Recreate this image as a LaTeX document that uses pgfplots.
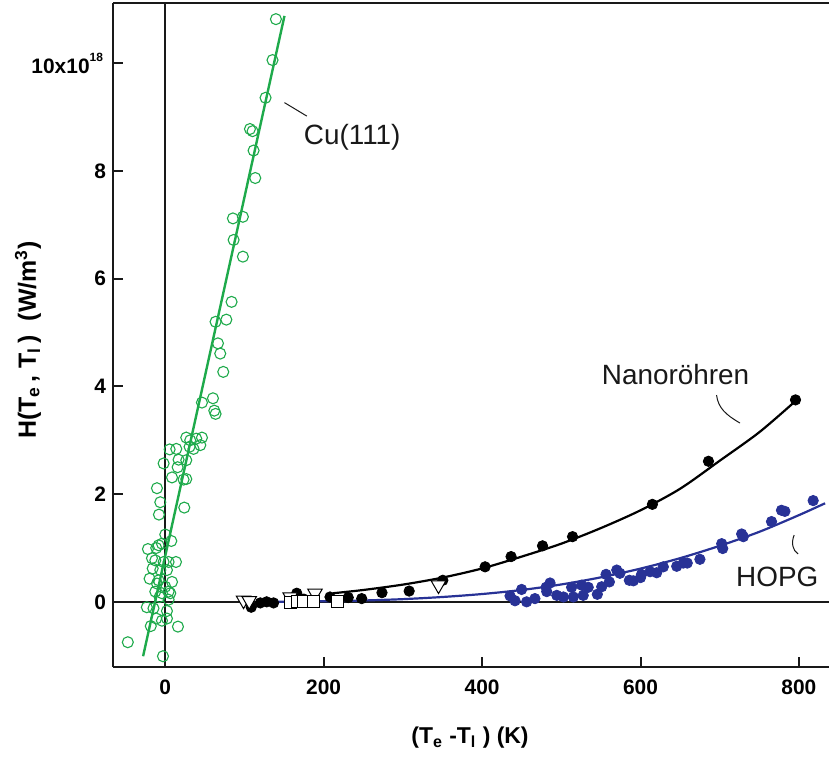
\documentclass[border=0pt]{standalone}
\usepackage{pgfplots}
\pgfplotsset{compat=1.18}
\usepackage{fontspec}
\setmainfont{Liberation Sans}
\definecolor{cugreen}{RGB}{30,170,75}
\definecolor{hopgblue}{RGB}{40,50,150}
\begin{document}
\begin{tikzpicture}
\begin{axis}[name=ax, scale only axis, width=358bp, height=332bp,
  xmin=-66, xmax=838, ymin=-1.21, ymax=11.12,
  axis x line=box, axis y line=left,
  x axis line style={-}, y axis line style={-},
  axis line style={line width=1bp, black!90},
  xtick pos=left, ytick pos=left,
  tick align=inside, major tick length=5bp,
  tick style={line width=1bp, black!90},
  xtick={0,200,400,600,800},
  ytick={0,2,4,6,8,10},
  yticklabels={0,2,4,6,8,{10x10\raisebox{1.1ex}{\fontsize{6}{7}\selectfont 18}\kern1.5bp}},
  /pgf/number format/assume math mode=true,
  ticklabel style={font=\bfseries\fontsize{10.5}{12}\selectfont},
  xticklabel style={yshift=-3bp},
  xlabel={(T\textsubscript{e} -T\textsubscript{l} ) (K)},
  ylabel={H(T\textsubscript{e}\,, T\textsubscript{l}\,)\ \ (W/m\textsuperscript{3})},
  xlabel style={font=\bfseries\fontsize{11.5}{13}\selectfont, at={(axis description cs:0.4986,-0.107)}, anchor=center},
  ylabel style={font=\bfseries\fontsize{12.5}{14}\selectfont, at={(axis description cs:-0.1187,0.4925)}, anchor=center, rotate=0},
  clip=false,
]
% zero lines
\draw[line width=0.9bp, black!90] (axis cs:0,-1.21) -- (axis cs:0,11.12);
\draw[line width=0.9bp, black!90] (axis cs:-66,0) -- (axis cs:838,0);

% Cu(111) data
\addplot[only marks, mark=o, mark size=2.75bp, cugreen, line width=0.55bp] coordinates {
(139.7,10.82) (135.4,10.06) (126.6,9.36) (106.9,8.78) (110.2,8.74) (111.5,8.38)
(113.6,7.87) (85.4,7.12) (98,7.15) (86.3,6.72) (98,6.41) (83.7,5.57) (63.5,5.20)
(77.1,5.24) (66.5,4.80) (69.4,4.61) (73.2,4.27) (46.3,3.70) (60.2,3.78) (61.9,3.55)
(63.5,3.49) (26.5,3.05) (31.5,3.00) (39.1,3.03) (46.3,3.05) (44.2,2.91) (35.7,2.84)
(30.7,2.88) (5.5,2.83) (13.9,2.84) (-2.1,2.57) (16.8,2.64) (26.5,2.63) (15.6,2.50)
(8.5,2.31) (23.1,2.27) (26.5,2.28) (-10.5,2.11) (-6.3,1.85) (-8,1.62) (24,1.75)
(0,1.25) (7.6,1.13) (-21.9,0.98) (-8.4,1.05) (-11.4,1.00) (-4.2,1.08) (-16.8,0.81)
(-12.6,0.77) (-2.1,0.74) (13.5,0.74) (4.2,0.74) (-15.9,0.62) (-6.3,0.59) (2.1,0.59)
(-19.8,0.43) (-8.4,0.40) (-10.5,0.34) (8.5,0.37) (0,0.28) (-12.6,0.19) (-4.2,0.16)
(4.2,0.19) (6.3,0.16) (-7.2,0.09) (4.2,0.04) (-23.3,-0.10) (-14.9,-0.12) (2.1,-0.17)
(-11.4,-0.31) (-4.2,-0.35) (2.1,-0.31) (-18.3,-0.45) (16,-0.46) (-47.3,-0.75) (-2.9,-1.01)
};
\addplot[cugreen, line width=1.2bp, no marks] coordinates {(-28,-1.01) (150.5,10.88)};

% fit lines
\addplot[black, line width=1.1bp, no marks, smooth] coordinates {
(212,0.16) (250,0.22) (300,0.32) (350,0.45) (400,0.62) (450,0.84) (500,1.08)
(550,1.37) (600,1.70) (650,2.10) (700,2.62) (750,3.15) (795,3.72)};
\addplot[hopgblue, line width=1.1bp, no marks, smooth] coordinates {
(132,0.0) (200,0.01) (250,0.025) (300,0.05) (350,0.09) (400,0.145) (450,0.22)
(500,0.323) (550,0.455) (600,0.617) (650,0.811) (700,1.04) (750,1.30) (800,1.61) (833,1.83)};

% HOPG data
\addplot[only marks, mark=*, mark size=2.6bp, hopgblue] coordinates {
(435.3,0.11) (441.6,0.02) (449.9,0.23) (456.2,0.00) (466.7,0.06) (480.8,0.27)
(485.8,0.35) (481.6,0.19) (494.3,0.12) (502.7,0.09) (513,0.27) (515.2,0.09)
(525.6,0.31) (527.7,0.12) (534,0.27) (545.5,0.14) (551,0.28) (556.5,0.51)
(560.7,0.37) (570,0.59) (574,0.53) (585.9,0.40) (591,0.39) (600,0.45) (601.3,0.51)
(612,0.56) (620.4,0.54) (628.8,0.65) (645.7,0.66) (654,0.72) (659,0.72) (675,0.79)
(702.5,1.08) (703.8,0.99) (727.7,1.26) (729.8,1.21) (765.4,1.49) (778,1.70)
(782.3,1.68) (818,1.88)};

% Nanoroehren data
\addplot[only marks, mark=*, mark size=2.6bp, black] coordinates {
(108.5,-0.10) (120,-0.02) (128,0.0) (136.7,-0.02) (166,0.16) (175,0.05) (208,0.09)
(231,0.08) (248,0.06) (273.6,0.17) (307.9,0.20) (350.4,0.40) (403.8,0.65)
(436.6,0.84) (476.3,1.04) (514.2,1.21) (615,1.81) (685.8,2.61) (795.7,3.75)};
\addplot[only marks, mark=triangle*, mark size=4.2bp, black, fill=white, line width=0.5bp,
  every mark/.append style={rotate=180}] coordinates {
(98.8,0.03) (106,0.02) (157.7,0.09) (189,0.16) (345,0.31)};
\addplot[only marks, mark=square*, mark size=3bp, black, fill=white, line width=0.5bp] coordinates {
(157.7,-0.02) (167,0.0) (175,0.0) (187,0.0) (217.5,0.01)};

% annotations
\node[font=\fontsize{14}{16}\selectfont, text=black!90] at (axis cs:236,8.63) {Cu(111)};
\draw[black!90, line width=0.5bp] (axis cs:150.5,9.27) -- (axis cs:178.7,9.02);
\node[font=\fontsize{14}{16}\selectfont, text=black!90] at (axis cs:644.3,4.23) {Nanoröhren};
\draw[black!90, line width=0.5bp] (axis cs:696,3.84) .. controls (axis cs:698,3.6) and (axis cs:708,3.47) .. (axis cs:725.6,3.32);
\node[font=\fontsize{14}{16}\selectfont, text=black!90] at (axis cs:772.7,0.46) {HOPG};
\draw[black!90, line width=0.5bp] (axis cs:794,1.24) .. controls (axis cs:790,1.1) and (axis cs:792,0.95) .. (axis cs:799,0.89);
\end{axis}
\pgfresetboundingbox
\path (ax.south west) ++(-56.5bp,-45.5bp) coordinate (bl);
\path (ax.north east) ++(0bp,1.5bp) coordinate (tr);
\useasboundingbox (bl) rectangle (tr);
\end{tikzpicture}
\end{document}
